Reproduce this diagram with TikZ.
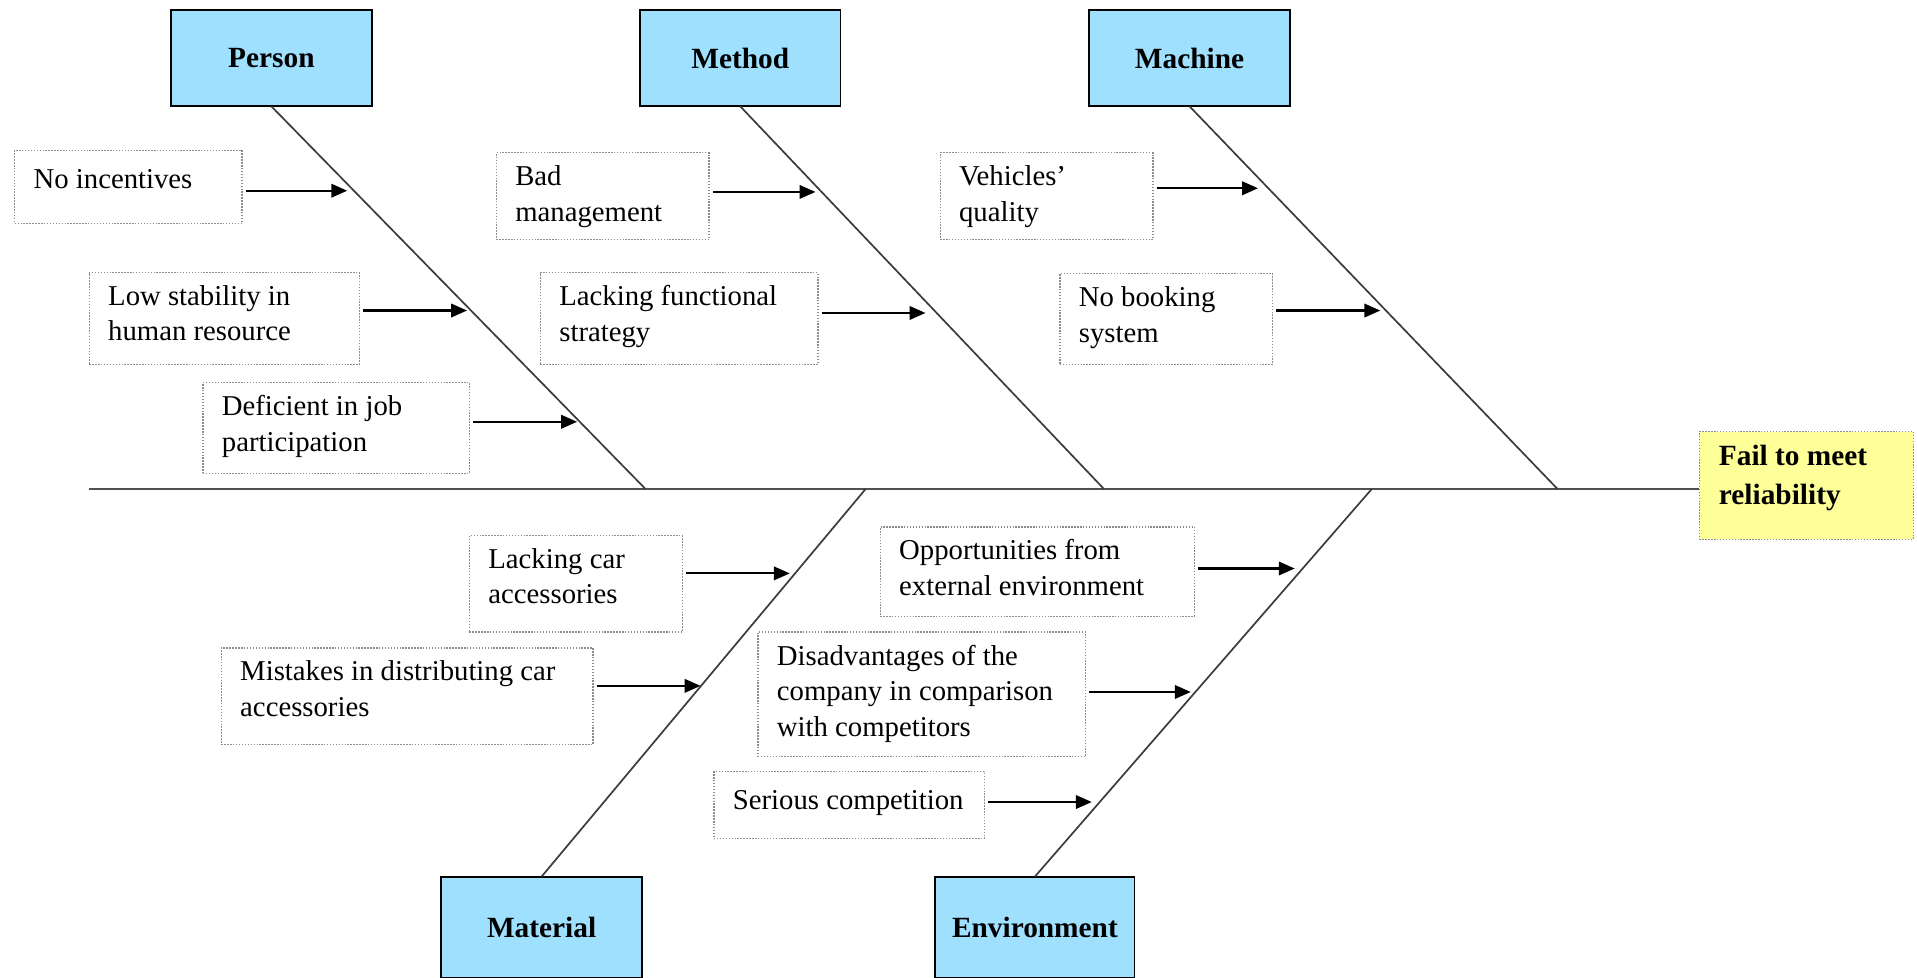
\documentclass[tikz,border=0pt]{standalone}
\usepackage{fontspec}
\setmainfont{Liberation Serif}
\usetikzlibrary{arrows.meta,calc}
\definecolor{hdrblue}{RGB}{160,224,255}
\definecolor{failyellow}{RGB}{255,255,153}
\definecolor{bonegray}{RGB}{60,60,60}
\definecolor{boxgray}{RGB}{140,140,140}
\tikzset{
  hdr/.style={draw=black, line width=1.5pt, fill=hdrblue, inner sep=0pt, outer sep=0pt,
    minimum width=164pt, minimum height=79pt, font=\fontsize{24}{29}\selectfont\bfseries},
  cbox/.style={draw=boxgray, line width=1pt, dash pattern=on 1.2pt off 1.2pt, inner sep=0pt, outer sep=0pt, anchor=north west},
  ctext/.style={anchor=north west, inner sep=0pt, outer sep=0pt, align=left,
    font=\fontsize{23.5}{29}\selectfont, execute at begin node=\strut},
  ftext/.style={anchor=north west, inner sep=0pt, outer sep=0pt, align=left,
    font=\fontsize{24}{32}\selectfont\bfseries, execute at begin node=\strut},
  bone/.style={draw=bonegray, line width=1.4pt},
  spine/.style={draw=bonegray!90, line width=2.4pt},
  arr/.style={draw=black, line width=1.8pt, -{Triangle[length=13pt,width=11pt]}, shorten <=3pt},
}
% cause box: name, x0, y0, x1, y1, text
\newcommand{\causebox}[6]{%
  \node[cbox, minimum width=#4pt-#2pt, minimum height=#5pt-#3pt] (#1) at (#2,#3) {};
  \node[ctext] (#1t) at (#2+15.5,#3+10.5) {#6};
}
\begin{document}
\begin{tikzpicture}[x=1pt,y=-1pt]
\useasboundingbox (0,0) rectangle (1568,799.2);

% headers
\node[hdr] (person) at (222,47.5) {Person};
\node[hdr] (method) at (605.5,47.5) {Method};
\node[hdr] (machine) at (973,47.5) {Machine};
\node[hdr, minimum height=83pt] (material) at (443,758.5) {Material};
\node[hdr, minimum height=83pt, minimum width=163pt] (environment) at (846.5,758.5) {Environment};

% effect
\node[cbox, fill=failyellow, minimum width=175pt, minimum height=88pt] (fail) at (1390,353) {};
\node[ftext] (failt) at (1406,364) {Fail to meet\\reliability};

% spine and bones
\coordinate (spineL) at (73,400);
\coordinate (jP) at (528,400);
\coordinate (jM) at (903,400);
\coordinate (jC) at (1274,400);
\coordinate (jT) at (708,400);
\coordinate (jE) at (1122,400);
\draw[spine] (spineL) -- (fail.west |- spineL);
\draw[bone] (person.south) -- (jP);
\draw[bone] (method.south) -- (jM);
\draw[bone] (machine.south) -- (jC);
\draw[bone] (material.north) -- (jT);
\draw[bone] (environment.north) -- (jE);

% causes
\causebox{p1}{12}{123}{198}{183}{No incentives}
\causebox{p2}{73}{223}{294}{298}{Low stability in\\human resource}
\causebox{p3}{166}{313}{384}{387}{Deficient in job\\participation}
\causebox{m1}{406}{125}{580}{196}{Bad\\management}
\causebox{m2}{442}{223}{669}{298}{Lacking functional\\strategy}
\causebox{c1}{769}{125}{943}{196}{Vehicles’\\quality}
\causebox{c2}{867}{224}{1041}{298}{No booking\\system}
\causebox{t1}{384}{438}{558}{517}{Lacking car\\accessories}
\causebox{t2}{181}{530}{485}{609}{Mistakes in distributing car\\accessories}
\causebox{e1}{720}{431}{977}{504}{Opportunities from\\external environment}
\causebox{e2}{620}{517}{888}{619}{Disadvantages of the\\company in comparison\\with competitors}
\causebox{e3}{584}{631}{805}{686}{Serious competition}

% arrow tips
\coordinate (ap1) at (284,156);
\coordinate (ap2) at (382,254);
\coordinate (ap3) at (472,345);
\coordinate (am1) at (667,157);
\coordinate (am2) at (757,256);
\coordinate (ac1) at (1029,154);
\coordinate (ac2) at (1129,254);
\coordinate (at1) at (646,469);
\coordinate (at2) at (573,561);
\coordinate (ae1) at (1059,465);
\coordinate (ae2) at (974,566);
\coordinate (ae3) at (893,656);

\draw[arr] (p1.east |- ap1) -- (ap1);
\draw[arr] (p2.east |- ap2) -- (ap2);
\draw[arr] (p3.east |- ap3) -- (ap3);
\draw[arr] (m1.east |- am1) -- (am1);
\draw[arr] (m2.east |- am2) -- (am2);
\draw[arr] (c1.east |- ac1) -- (ac1);
\draw[arr] (c2.east |- ac2) -- (ac2);
\draw[arr] (t1.east |- at1) -- (at1);
\draw[arr] (t2.east |- at2) -- (at2);
\draw[arr] (e1.east |- ae1) -- (ae1);
\draw[arr] (e2.east |- ae2) -- (ae2);
\draw[arr] (e3.east |- ae3) -- (ae3);
\end{tikzpicture}
\end{document}
